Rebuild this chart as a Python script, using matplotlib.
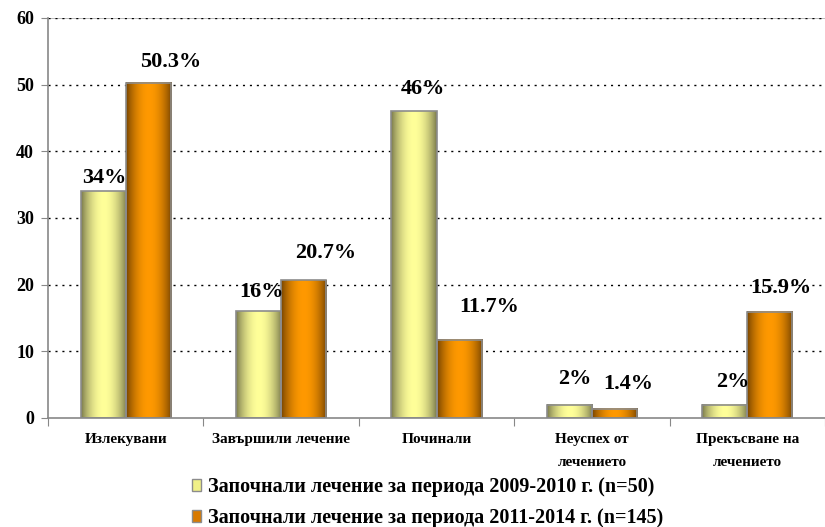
import numpy as np
import matplotlib.pyplot as plt
from matplotlib.colors import LinearSegmentedColormap
from matplotlib.patches import Patch

# данни
categories = ['Излекувани', 'Завършили лечение', 'Починали',
              'Неуспех от\nлечението', 'Прекъсване на\nлечението']
vals_2009 = [34, 16, 46, 2, 2]
vals_2011 = [50.3, 20.7, 11.7, 1.4, 15.9]
labels_2009 = ['34%', '16%', '46%', '2%', '2%']
labels_2011 = ['50.3%', '20.7%', '11.7%', '1.4%', '15.9%']
series_names = ['Започнали лечение за периода 2009-2010 г. (n=50)',
                'Започнали лечение за периода 2011-2014 г. (n=145)']

# отместване на етикетите (пиксели) - ръчно наместени като в оригинала
off_2009 = [(1, 8), (3, 14), (9, 17), (5, 21), (8, 18)]
off_2011 = [(22, 16), (22, 22), (30, 28), (14, 20), (11, 19)]

plt.rcParams['font.family'] = ['Liberation Serif', 'DejaVu Serif']
plt.rcParams['font.weight'] = 'bold'

fig = plt.figure(figsize=(8.25, 5.27), dpi=100)
ax = fig.add_axes([48 / 825, 1 - 418 / 527, 1 - 48 / 825, 400 / 527])

x = np.arange(len(categories))
w = 0.29

yellow_cm = LinearSegmentedColormap.from_list('y', ['#77774a', '#ffff99'])
orange_cm = LinearSegmentedColormap.from_list('o', ['#744200', '#ff9900'])


def gradient_bars(xs, vals, cmap):
    bars = ax.bar(xs, vals, w, facecolor='none', edgecolor='#8c8c8c',
                  linewidth=1.2, zorder=4)
    t = np.linspace(0, 1, 64)
    prof = np.sin(np.pi * t) ** 0.8
    grad = prof[np.newaxis, :]
    for b in bars:
        x0 = b.get_x()
        ax.imshow(grad, cmap=cmap, vmin=0, vmax=1, aspect='auto',
                  extent=[x0, x0 + b.get_width(), 0, b.get_height()],
                  zorder=3, interpolation='bicubic')
    return bars


b1 = gradient_bars(x - w / 2, vals_2009, yellow_cm)
b2 = gradient_bars(x + w / 2, vals_2011, orange_cm)

for bars, labs, offs in [(b1, labels_2009, off_2009), (b2, labels_2011, off_2011)]:
    for b, lab, (dx, dy) in zip(bars, labs, offs):
        ax.annotate(lab, (b.get_x() + b.get_width() / 2, b.get_height()),
                    xytext=(dx, dy), textcoords='offset pixels',
                    ha='center', va='baseline', fontsize=16,
                    fontweight='bold', zorder=6)

ax.set_xlim(-0.5, 4.47)
ax.set_ylim(0, 60)

# решетка
ax.axhline(60, color='#b0b0b0', lw=1.2, zorder=1)
for yv in range(10, 61, 10):
    ax.axhline(yv, color='black', lw=1, linestyle=(0, (1.5, 3.5)), zorder=1)

ax.set_yticks(range(0, 61, 10))
ax.tick_params(axis='y', direction='out', length=5, color='#888888',
               labelsize=13, pad=5)
ax.set_xticks(np.arange(-0.5, 5, 1))
ax.set_xticklabels([])
ax.tick_params(axis='x', which='major', direction='out', length=6, color='#888888')
ax.set_xticks(x, minor=True)
ax.set_xticklabels(categories, minor=True, fontsize=11, linespacing=2.0,
                   va='top')
ax.tick_params(axis='x', which='minor', length=0, pad=11)

for s in ['top', 'right']:
    ax.spines[s].set_visible(False)
for s in ['left', 'bottom']:
    ax.spines[s].set_color('#888888')
    ax.spines[s].set_linewidth(1.2)
    ax.spines[s].set_zorder(5)

handles = [Patch(facecolor='#f0f088', edgecolor='#8c8c8c'),
           Patch(facecolor='#d87a00', edgecolor='#8c8c8c')]
fig.legend(handles, series_names, loc='upper left',
           bbox_to_anchor=(192 / 825, 1 - 477 / 527), frameon=False,
           fontsize=14.5, handlelength=0.45, handleheight=0.6,
           handletextpad=0.35, labelspacing=0.55, borderpad=0,
           borderaxespad=0)

fig.savefig('out.png', dpi=100)
